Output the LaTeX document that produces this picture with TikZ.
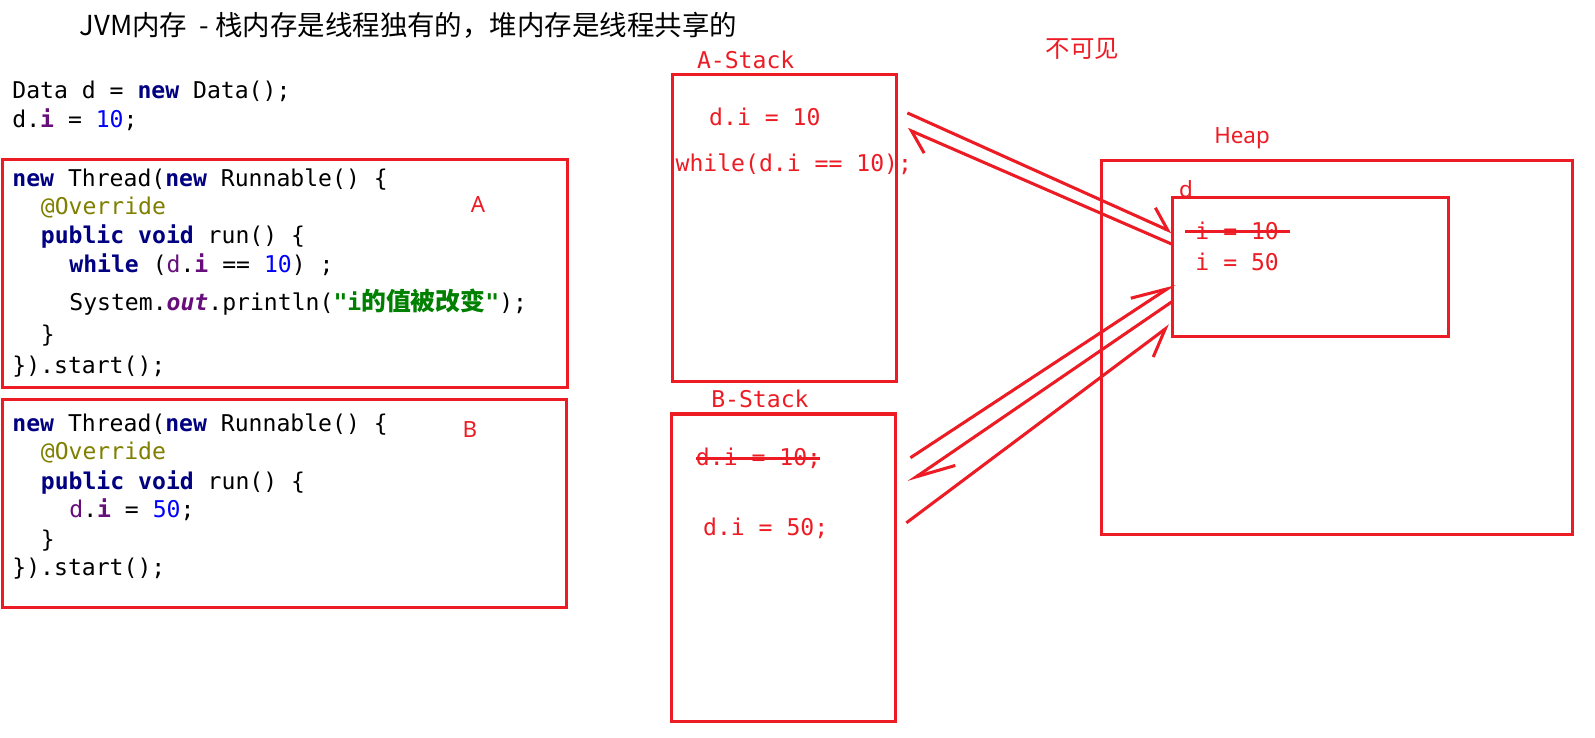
\documentclass[tikz,border=0pt]{standalone}
\usepackage{fontspec}
\setmonofont{DejaVu Sans Mono}
\newfontfamily\cjk{Noto Sans CJK SC}
\newfontfamily\labf{Noto Sans}
\usetikzlibrary{arrows.meta}
\definecolor{rd}{HTML}{ED1C24}
\definecolor{kwc}{HTML}{000080}
\definecolor{annc}{HTML}{808000}
\definecolor{fldc}{HTML}{660E7A}
\definecolor{numc}{HTML}{0000FF}
\definecolor{strc}{HTML}{008000}
\newcommand\kwd[1]{\textcolor{kwc}{\bfseries #1}}
\newcommand\fldd{\textcolor{fldc}{d}}
\newcommand\fldi{\textcolor{fldc}{\bfseries i}}
\newcommand\numb[1]{\textcolor{numc}{#1}}
\begin{document}
\begin{tikzpicture}[x=1pt,y=-1pt,
  code/.style={anchor=base west, inner sep=0pt, font=\ttfamily\fontsize{22.7}{28}\selectfont, text=black},
  rtext/.style={code, text=rd},
  lab/.style={inner sep=0pt, text=rd, font=\labf\fontsize{22}{26}\selectfont},
  box/.style={draw=rd, line width=3pt, inner sep=0pt},
  strike/.style={draw=rd, line width=3pt},
  arr/.style 2 args={draw=rd, line width=3pt, -{Straight Barb[harpoon, length=#1, width=#2]}},
  arrs/.style 2 args={draw=rd, line width=3pt, -{Straight Barb[harpoon, swap, length=#1, width=#2]}}
]
\useasboundingbox (0,0) rectangle (1568,725);
\fill[white] (0,0) rectangle (1568,725);

% title
\node[anchor=west, inner sep=0pt, font=\cjk\fontsize{27}{30}\selectfont] (title) at (78,25) {JVM内存\ \ -\ 栈内存是线程独有的，堆内存是线程共享的};

% top code
\node[code] (c1) at (12,97) {Data d = \kwd{new} Data();};
\node[code] (c2) at (12,125) {d.\fldi{} = \numb{10};};

% box A
\node[box, minimum width=556, minimum height=224] (boxA) at (280,269) {};
\node[code] (a1) at (12,183) {\kwd{new} Thread(\kwd{new} Runnable() \{};
\node[code] (a2) at (40,211) {\textcolor{annc}{@Override}};
\node[code] (a3) at (40,239) {\kwd{public} \kwd{void} run() \{};
\node[code] (a4) at (68,268) {\kwd{while} (\fldd.\fldi{} == \numb{10}) ;};
\node[code] (a5) at (68,305) {System.\textcolor{fldc}{\bfseries\itshape out}.println(\textcolor{strc}{\bfseries"i{\cjk\fontsize{24.4}{28}\selectfont 的值被改变}"});};
\node[code] (a6) at (40,337) {\}};
\node[code] (a7) at (12,367) {\}).start();};
\node[lab] (labA) at (470,201) {A};

% box B
\node[box, minimum width=555, minimum height=204] (boxB) at (279.5,495) {};
\node[code] (b1) at (12,424) {\kwd{new} Thread(\kwd{new} Runnable() \{};
\node[code] (b2) at (40,452) {\textcolor{annc}{@Override}};
\node[code] (b3) at (40,481) {\kwd{public} \kwd{void} run() \{};
\node[code] (b4) at (68,509) {\fldd.\fldi{} = \numb{50};};
\node[code] (b5) at (40,538) {\}};
\node[code] (b6) at (12,566) {\}).start();};
\node[lab] (labB) at (462,422) {B};

% A-Stack
\node[rtext] (astlab) at (685,67) {A-Stack};
\node[box, minimum width=220, minimum height=302] (astack) at (771,224) {};
\node[rtext] (as1) at (697,123) {d.i = 10};
\node[rtext] (as2) at (664,169) {while(d.i == 10);};

% B-Stack
\node[rtext] (bstlab) at (699,401) {B-Stack};
\node[box, minimum width=220, minimum height=302] (bstack) at (770,558) {};
\node[rtext] (bs1) at (684,458) {d.i = 10;};
\draw[strike] (684,451) -- (806,451);
\node[rtext] (bs2) at (691,526) {d.i = 50;};

% invisible label
\node[inner sep=0pt, text=rd, font=\cjk\fontsize{24}{28}\selectfont] (inv) at (1064,48) {不可见};

% Heap
\node[lab] (heaplab) at (1221,136) {Heap};
\node[box, minimum width=463, minimum height=367] (heap) at (1314.5,341.5) {};
\node[lab] (dlab) at (1166,186) {d};
\node[box, minimum width=271, minimum height=137] (dbox) at (1288.5,262.5) {};
\node[rtext] (h1) at (1175,235) {i = 10};
\draw[strike] (1165,228) -- (1268,228);
\node[rtext] (h2) at (1175,266) {i = 50};

% arrow endpoints
\coordinate (p1s) at (892,111);  \coordinate (p1e) at (1152,228);
\coordinate (p2s) at (1152,240); \coordinate (p2e) at (892,127);
\coordinate (p3s) at (895,450);  \coordinate (p3e) at (1155,279);
\coordinate (p4s) at (1153,296); \coordinate (p4e) at (893,474);
\coordinate (p5s) at (891,514);  \coordinate (p5e) at (1150,320);

\draw[arr={20pt}{30pt}] (p1s) -- (p1e);
\draw[arr={20pt}{30pt}] (p2s) -- (p2e);
\draw[arr={35pt}{24pt}] (p3s) -- (p3e);
\draw[arr={38pt}{25pt}] (p4s) -- (p4e);
\draw[arrs={26pt}{30pt}] (p5s) -- (p5e);
\end{tikzpicture}
\end{document}
